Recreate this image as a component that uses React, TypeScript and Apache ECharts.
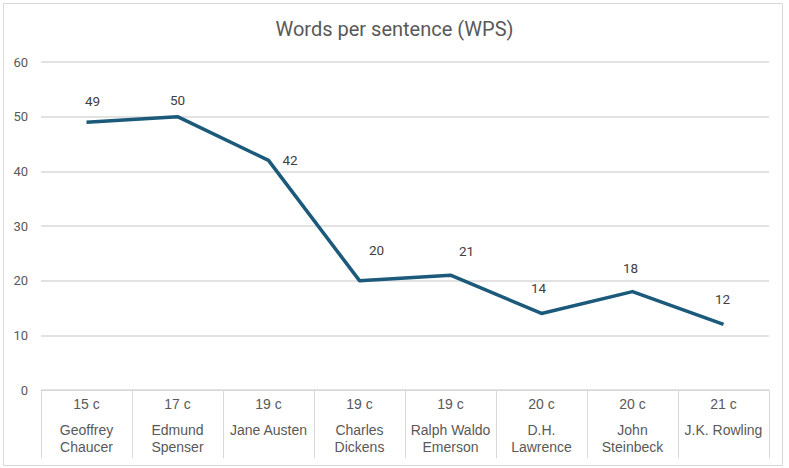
import React, { useEffect, useRef } from "react";
import * as echarts from "echarts";

const centuries = ["15 c", "17 c", "19 c", "19 c", "19 c", "20 c", "20 c", "21 c"];
const authors = [
  "Geoffrey\nChaucer",
  "Edmund\nSpenser",
  "Jane Austen",
  "Charles\nDickens",
  "Ralph Waldo\nEmerson",
  "D.H.\nLawrence",
  "John\nSteinbeck",
  "J.K. Rowling",
];
const wps = [49, 50, 42, 20, 21, 14, 18, 12];
const yTicks = [0, 10, 20, 30, 40, 50, 60];

const labelOffsets: Record<number, any> = {
  0: { position: "top", offset: [6, -9] },
  1: { position: "top", offset: [0, -5] },
  2: { position: "right", offset: [9, 0] },
  3: { position: "top", offset: [17, -19] },
  4: { position: "top", offset: [16, -12] },
  5: { position: "top", offset: [-3, -13] },
  6: { position: "top", offset: [-2, -12] },
  7: { position: "top", offset: [-1, -13] },
};

export default function App() {
  const ref = useRef<HTMLDivElement>(null);
  useEffect(() => {
    const chart = echarts.init(ref.current!, null, { renderer: "svg" });
    const cats = centuries.map((c, i) => c + "|" + authors[i]);
    chart.setOption({
      animation: false,
      backgroundColor: "#ffffff",
      title: {
        text: "Words per sentence (WPS)",
        left: "center",
        top: 14,
        textStyle: {
          fontFamily: "Roboto",
          fontWeight: "normal",
          fontSize: 20,
          color: "#595959",
        },
      },
      graphic: [
        {
          type: "rect",
          shape: { x: 3.5, y: 3.5, width: 779, height: 462 },
          style: { fill: "none", stroke: "#d9d9d9", lineWidth: 1 },
          silent: true,
        },
      ],
      grid: { left: 41, right: 20, top: 62, bottom: 78, containLabel: false },
      xAxis: {
        type: "category",
        data: cats,
        boundaryGap: true,
        axisLine: { show: true, lineStyle: { color: "#d9d9d9", width: 1 } },
        axisTick: {
          show: true,
          alignWithLabel: false,
          length: 68,
          lineStyle: { color: "#d9d9d9", width: 1 },
        },
        axisLabel: {
          interval: 0,
          margin: 7,
          formatter: (v: string) => {
            const [c, a] = v.split("|");
            return "{c|" + c + "}\n{a|" + a.split("\n").join("}\n{a|") + "}";
          },
          rich: {
            c: {
              fontFamily: "Liberation Sans",
              fontSize: 14,
              color: "#595959",
              lineHeight: 24,
              padding: [0, 0, 10, 0],
              align: "center",
            },
            a: {
              fontFamily: "Liberation Sans",
              fontSize: 14,
              color: "#595959",
              lineHeight: 17,
              align: "center",
            },
          },
        },
        splitLine: { show: false },
      },
      yAxis: {
        type: "value",
        min: yTicks[0],
        max: yTicks[yTicks.length - 1],
        interval: 10,
        axisLine: { show: false },
        axisTick: { show: false },
        axisLabel: {
          margin: 13,
          fontFamily: "Roboto",
          fontSize: 13,
          color: "#595959",
          showMinLabel: true,
        },
        splitLine: { lineStyle: { color: "#d9d9d9", width: 1.5 } },
      },
      series: [
        {
          type: "line",
          data: wps.map((v, i) => ({
            value: v,
            label: { show: true, ...labelOffsets[i] },
          })),
          symbol: "circle",
          symbolSize: 0,
          showSymbol: true,
          lineStyle: { color: "#1b5a7a", width: 3.5, join: "round" },
          itemStyle: { color: "#1b5a7a" },
          label: {
            show: true,
            fontFamily: "Roboto",
            fontSize: 13.5,
            color: "#404040",
          },
        },
      ],
    });
    return () => chart.dispose();
  }, []);
  return (
    <div
      ref={ref}
      style={{ position: "absolute", left: 0, top: 0, width: 789, height: 468 }}
    />
  );
}
